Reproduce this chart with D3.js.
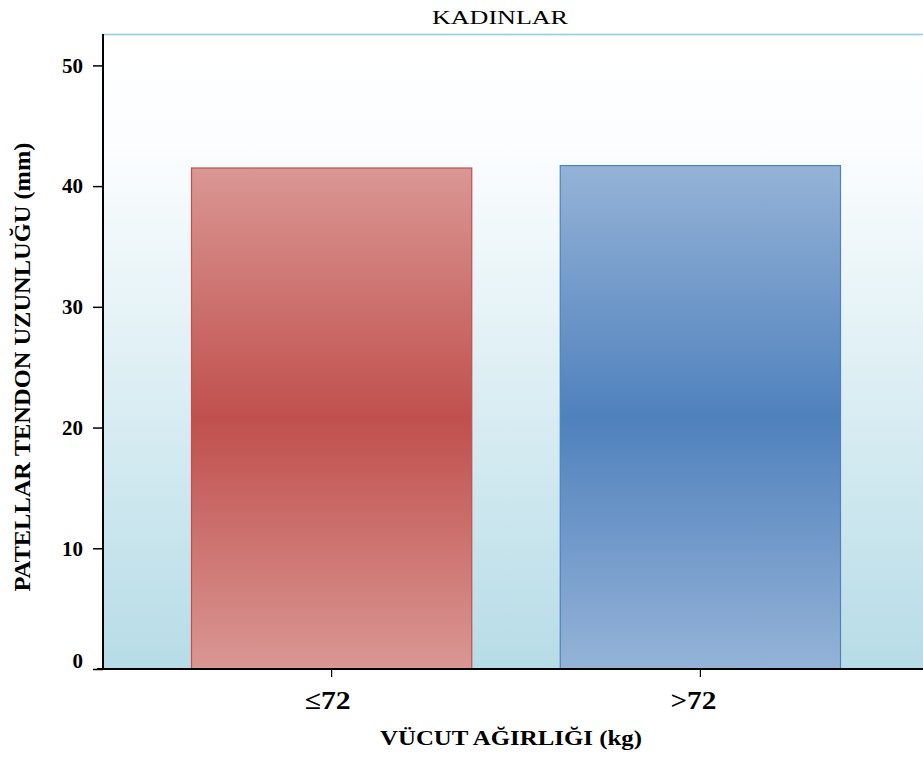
<!DOCTYPE html>
<html>
<head>
<meta charset="utf-8">
<script src="https://cdn.jsdelivr.net/npm/d3@7"></script>
<style>
  body { margin: 0; background: #fff; }
  text { font-family: "Liberation Serif", "DejaVu Serif", serif; }
</style>
</head>
<body>
<div class="chart"></div>
<script>
const categories = ['≤72', '>72'];
const values = [41.5, 41.7];
const yTicks = [0, 10, 20, 30, 40, 50];
const colors = [
  {light: '#da9794', dark: '#c0504d', stroke: '#c0504d'},
  {light: '#95b3d7', dark: '#4f81bd', stroke: '#4f81bd'}
];

const W = 923, H = 763;
const margin = {top: 34, right: 0, bottom: 94, left: 103};
const width = W - margin.left - margin.right;
const height = H - margin.top - margin.bottom;

const svg = d3.select('.chart')
  .append('svg')
  .attr('width', W)
  .attr('height', H);

const defs = svg.append('defs');

const bg = defs.append('linearGradient')
  .attr('id', 'bg')
  .attr('x1', 0).attr('y1', 0).attr('x2', 0).attr('y2', 1);
bg.append('stop').attr('offset', '0%').attr('stop-color', '#ffffff');
bg.append('stop').attr('offset', '18%').attr('stop-color', '#fbfdfe');
bg.append('stop').attr('offset', '100%').attr('stop-color', '#b7dce7');

colors.forEach((c, i) => {
  const g = defs.append('linearGradient')
    .attr('id', 'bar' + i)
    .attr('x1', 0).attr('y1', 0).attr('x2', 0).attr('y2', 1);
  g.append('stop').attr('offset', '0%').attr('stop-color', c.light);
  g.append('stop').attr('offset', '50%').attr('stop-color', c.dark);
  g.append('stop').attr('offset', '100%').attr('stop-color', c.light);
});

const g = svg.append('g')
  .attr('transform', `translate(${margin.left}, ${margin.top})`);

const xScale = d3.scaleBand()
  .domain(categories)
  .range([0, 826])
  .padding(0.24);

const yScale = d3.scaleLinear()
  .domain([0, 52.6])
  .range([height, 0]);

// plot background
g.append('rect')
  .attr('x', 0).attr('y', 0)
  .attr('width', width).attr('height', height)
  .attr('fill', 'url(#bg)');

g.append('line')
  .attr('x1', 0).attr('x2', width)
  .attr('y1', 0.5).attr('y2', 0.5)
  .attr('stroke', '#8ccfe0')
  .attr('stroke-width', 1.5);

g.selectAll('.bar')
  .data(values)
  .enter()
  .append('rect')
  .attr('class', 'bar')
  .attr('x', (d, i) => xScale(categories[i]))
  .attr('y', d => yScale(d))
  .attr('width', xScale.bandwidth())
  .attr('height', d => height - yScale(d))
  .attr('fill', (d, i) => 'url(#bar' + i + ')')
  .attr('stroke', (d, i) => colors[i].stroke)
  .attr('stroke-width', 1.2);

const yAxis = d3.axisLeft(yScale)
  .tickValues(yTicks)
  .tickSize(10)
  .tickPadding(10);

const xAxis = d3.axisBottom(xScale)
  .tickSize(8)
  .tickPadding(14);

const ya = g.append('g')
  .attr('class', 'axis y-axis')
  .call(yAxis);
ya.select('.domain').attr('d', `M0,0V${height}`).attr('stroke', '#000').attr('stroke-width', 2);
ya.selectAll('.tick line').attr('stroke', '#000').attr('stroke-width', 1.5);
ya.selectAll('.tick text')
  .attr('fill', '#000')
  .attr('dy', d => d === 0 ? '-0.05em' : '0.32em')
  .style('font-size', '21px')
  .style('font-weight', 'bold');

const xa = g.append('g')
  .attr('class', 'axis x-axis')
  .attr('transform', `translate(0, ${height})`)
  .call(xAxis);
xa.select('.domain').attr('d', `M-6,0H${width}`).attr('stroke', '#000').attr('stroke-width', 2);
xa.selectAll('.tick line').attr('stroke', '#000').attr('stroke-width', 1.2);
xa.selectAll('.tick text')
  .attr('fill', '#000')
  .attr('dx', (d, i) => i === 0 ? -4 : -7)
  .attr('textLength', 46)
  .attr('lengthAdjust', 'spacingAndGlyphs')
  .style('font-size', '26px')
  .style('font-weight', 'bold');

svg.append('text')
  .attr('x', 500)
  .attr('y', 24)
  .attr('text-anchor', 'middle')
  .attr('textLength', 136)
  .attr('lengthAdjust', 'spacingAndGlyphs')
  .style('font-size', '18px')
  .text('KADINLAR');

svg.append('text')
  .attr('x', 511)
  .attr('y', 745)
  .attr('text-anchor', 'middle')
  .attr('textLength', 262)
  .attr('lengthAdjust', 'spacingAndGlyphs')
  .style('font-size', '22px')
  .style('font-weight', 'bold')
  .text('VÜCUT AĞIRLIĞI  (kg)');

svg.append('text')
  .attr('transform', 'translate(30, 367) rotate(-90)')
  .attr('text-anchor', 'middle')
  .attr('textLength', 449)
  .attr('lengthAdjust', 'spacingAndGlyphs')
  .style('font-size', '24px')
  .style('font-weight', 'bold')
  .text('PATELLAR TENDON UZUNLUĞU (mm)');
</script>
</body>
</html>
